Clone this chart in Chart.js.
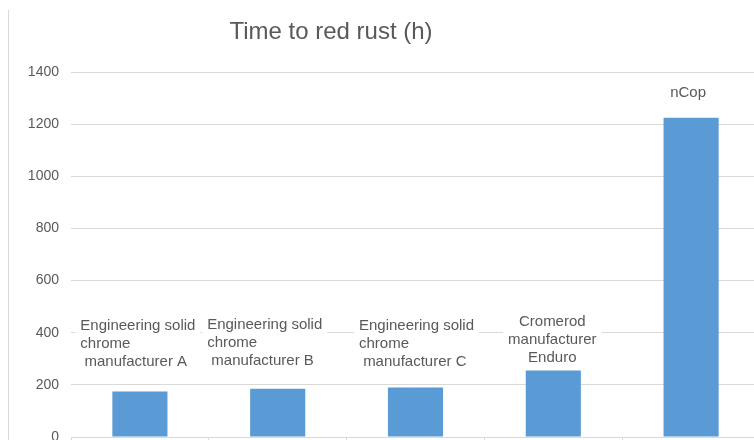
<!DOCTYPE html>
<html>
<head>
<meta charset="utf-8">
<script src="https://cdn.jsdelivr.net/npm/chart.js@4/dist/chart.umd.min.js"></script>
<style>
  html, body { margin: 0; padding: 0; background: #ffffff; overflow: hidden; width: 754px; height: 440px; }
  #c { display: block; }
</style>
</head>
<body>
<canvas id="c" width="770" height="460"></canvas>
<script>
// ---- data ----
const chartTitle = "Time to red rust (h)";
const categories = [
  ["Engineering solid", "chrome", " manufacturer A"],
  ["Engineering solid", "chrome", " manufacturer B"],
  ["Engineering solid", "chrome", " manufacturer C"],
  ["Cromerod", "manufacturer", "Enduro"],
  ["nCop"]
];
const timeToRedRust = [175, 185, 190, 255, 1225];
const yTicks = [0, 200, 400, 600, 800, 1000, 1200, 1400];

// ---- label layout (style, not data) ----
const labelLift = [30, 28, 26, 13, 25];      // px from bar top to last line centre
const labelShift = [-2, -13, 1, -1, -3];     // px horizontal shift
const labelAlign = ['left', 'left', 'left', 'center', 'center'];

const textColor = '#595959';
const gridColor = '#d9d9d9';
const fontFamily = '"Liberation Sans", Arial, sans-serif';

const decorPlugin = {
  id: 'decor',
  beforeDraw(chart) {
    const ctx = chart.ctx;
    ctx.save();
    ctx.strokeStyle = gridColor;
    ctx.lineWidth = 1;
    ctx.beginPath();
    ctx.moveTo(8.5, 10);
    ctx.lineTo(8.5, chart.height);
    ctx.stroke();
    ctx.restore();
  },
  afterDraw(chart) {
    const ctx = chart.ctx;
    ctx.save();
    ctx.fillStyle = textColor;
    ctx.font = '24px ' + fontFamily;
    ctx.textAlign = 'center';
    ctx.textBaseline = 'middle';
    ctx.fillText(chartTitle, 331, 32);
    ctx.restore();
  }
};

const labelPlugin = {
  id: 'barLabels',
  afterDatasetsDraw(chart) {
    const ctx = chart.ctx;
    const meta = chart.getDatasetMeta(0);
    const lh = 18;
    ctx.save();
    ctx.font = '15px ' + fontFamily;
    meta.data.forEach((bar, i) => {
      const lines = chart.data.labels[i];
      const w = Math.max(...lines.map(l => ctx.measureText(l).width));
      const cx = bar.x + labelShift[i];
      const lastY = bar.y - labelLift[i];
      const firstY = lastY - (lines.length - 1) * lh;
      const boxL = cx - w / 2 - 5, boxT = firstY - lh / 2 - 3;
      ctx.fillStyle = '#ffffff';
      ctx.fillRect(boxL, boxT, w + 10, lines.length * lh + 6);
      ctx.fillStyle = textColor;
      ctx.textBaseline = 'middle';
      lines.forEach((ln, k) => {
        const y = firstY + k * lh;
        if (labelAlign[i] === 'left') {
          ctx.textAlign = 'left';
          ctx.fillText(ln, cx - w / 2, y);
        } else {
          ctx.textAlign = 'center';
          ctx.fillText(ln, cx, y);
        }
      });
    });
    ctx.restore();
  }
};

new Chart(document.getElementById('c'), {
  type: 'bar',
  data: {
    labels: categories,
    datasets: [{
      label: chartTitle,
      data: timeToRedRust,
      backgroundColor: '#5b9bd5',
      borderWidth: 0,
      barPercentage: 0.4,
      categoryPercentage: 1.0
    }]
  },
  options: {
    responsive: false,
    animation: false,
    devicePixelRatio: 1,
    layout: { padding: { left: 0, right: 10, top: 72, bottom: 0 } },
    plugins: {
      legend: { display: false },
      title: { display: false },
      tooltip: { enabled: false }
    },
    scales: {
      x: {
        offset: true,
        grid: { display: true, drawOnChartArea: false, offset: true, color: gridColor, tickLength: 5 },
        border: { display: true, color: gridColor },
        ticks: { display: false },
        afterFit(s) { s.height = 23; }
      },
      y: {
        min: 0,
        max: 1400,
        afterBuildTicks(s) { s.ticks = yTicks.map(v => ({ value: v })); },
        grid: { color: gridColor, drawTicks: false },
        border: { display: false },
        ticks: {
          color: textColor,
          font: { family: fontFamily, size: 14 },
          padding: 12,
          callback: (v) => String(v)
        },
        afterFit(s) { s.width = 71; }
      }
    }
  },
  plugins: [decorPlugin, labelPlugin]
});
</script>
</body>
</html>
